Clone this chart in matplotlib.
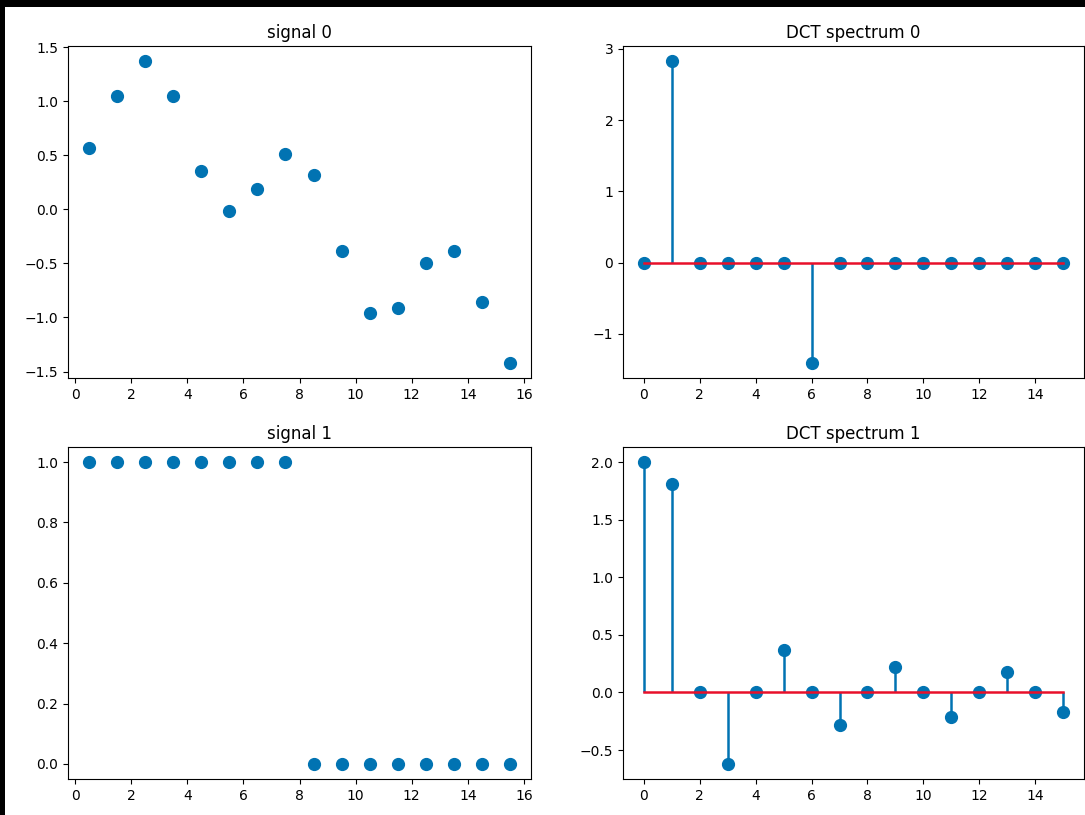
import matplotlib
matplotlib.use("Agg")
import matplotlib.pyplot as plt
from matplotlib.patches import Rectangle

# --- data ---
signal_x = [0.5, 1.5, 2.5, 3.5, 4.5, 5.5, 6.5, 7.5,
            8.5, 9.5, 10.5, 11.5, 12.5, 13.5, 14.5, 15.5]
signal_0 = [0.57, 1.05, 1.37, 1.05, 0.35, -0.02, 0.19, 0.51,
            0.32, -0.39, -0.96, -0.91, -0.50, -0.39, -0.86, -1.42]
signal_1 = [1, 1, 1, 1, 1, 1, 1, 1, 0, 0, 0, 0, 0, 0, 0, 0]

freq_idx = list(range(16))
dct_0 = [0.0, 2.83, 0.0, 0.0, 0.0, 0.0, -1.41, 0.0,
         0.0, 0.0, 0.0, 0.0, 0.0, 0.0, 0.0, 0.0]
dct_1 = [2.0, 1.81, 0.0, -0.62, 0.0, 0.37, 0.0, -0.28,
         0.0, 0.22, 0.0, -0.21, 0.0, 0.18, 0.0, -0.17]

BLUE = "#0173b2"
RED = "#e8102a"

W, H = 1085, 815
fig = plt.figure(figsize=(W / 100, H / 100), dpi=100, facecolor="black")
# screenshot look: black strip on top and left, white canvas elsewhere
fig.add_artist(Rectangle((5 / W, 0), 1, 1 - 7 / H, transform=fig.transFigure,
                         facecolor="white", edgecolor="none", zorder=-10))


def px_axes(left, top, right, bottom):
    return fig.add_axes([left / W, (H - bottom) / H, (right - left) / W, (bottom - top) / H])


ax_s0 = px_axes(68, 46, 531, 378)
ax_d0 = px_axes(623, 46, 1084, 378)
ax_s1 = px_axes(68, 447, 531, 779)
ax_d1 = px_axes(623, 447, 1084, 779)

for ax, sig, title in [(ax_s0, signal_0, "signal 0"), (ax_s1, signal_1, "signal 1")]:
    ax.plot(signal_x, sig, "o", color=BLUE, markersize=8.5)
    ax.set_title(title)

for ax, coef, title in [(ax_d0, dct_0, "DCT spectrum 0"), (ax_d1, dct_1, "DCT spectrum 1")]:
    markers, stems, base = ax.stem(freq_idx, coef)
    markers.set_color(BLUE)
    markers.set_markersize(8.5)
    stems.set_color(BLUE)
    stems.set_linewidth(1.8)
    base.set_color(RED)
    base.set_linewidth(1.8)
    ax.set_title(title)

fig.savefig("out.png", dpi=100, facecolor=fig.get_facecolor())
